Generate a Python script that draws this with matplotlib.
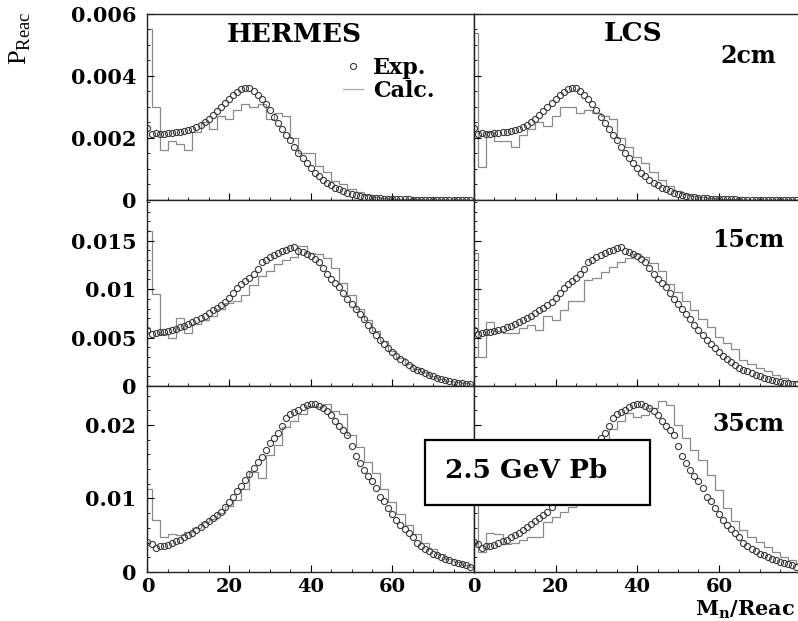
import matplotlib
matplotlib.use('Agg')
import matplotlib.pyplot as plt
from matplotlib.ticker import MultipleLocator, FuncFormatter
from matplotlib.patches import Rectangle
from matplotlib.lines import Line2D

plt.rcParams['font.family'] = 'DejaVu Serif'
plt.rcParams['font.weight'] = 'bold'
plt.rcParams['mathtext.fontset'] = 'custom'
plt.rcParams['mathtext.rm'] = 'Liberation Serif:normal'
plt.rcParams['mathtext.bf'] = 'DejaVu Serif:bold'

# M_n/Reac values of the experimental points
mn = list(range(80))
# histogram bin edges of the calculations
edges = [0] + list(range(1, 80, 2)) + [80]

exp_2cm = [0.00232, 0.00212, 0.00215, 0.00212, 0.00213, 0.00215, 0.00216, 0.00218, 0.00220, 0.00222,
           0.00226, 0.00230, 0.00236, 0.00243, 0.00252, 0.00262, 0.00274, 0.00287, 0.00300, 0.00313,
           0.00326, 0.00338, 0.00349, 0.00358, 0.00362, 0.00360, 0.00352, 0.00340, 0.00326, 0.00310,
           0.00290, 0.00268, 0.00248, 0.00228, 0.00210, 0.00192, 0.00172, 0.00153, 0.00136, 0.00118,
           0.00102, 0.00088, 0.00076, 0.00065, 0.00056, 0.00048, 0.00040, 0.00034, 0.00029, 0.00024,
           0.00020, 0.00016, 0.00013, 0.00011, 0.00009, 0.00007, 0.00006, 0.00005, 0.00004, 0.00003,
           0.000025, 0.00002, 0.00002, 0.000015, 0.000015, 0.00001, 0.00001, 0.00001, 0.00001, 0.000008,
           0.000008, 0.000006, 0.000006, 0.000005, 0.000005, 0.000004, 0.000004, 0.000003, 0.000003, 0.000002]

exp_15cm = [0.0058, 0.0054, 0.0055, 0.0056, 0.0056, 0.0057, 0.0058, 0.0059, 0.0061, 0.0062,
            0.0064, 0.0066, 0.0068, 0.0070, 0.0072, 0.0075, 0.0078, 0.0081, 0.0084, 0.0087,
            0.0091, 0.0096, 0.0101, 0.0105, 0.0108, 0.0111, 0.0116, 0.0121, 0.0128, 0.0130,
            0.0133, 0.0135, 0.0137, 0.0139, 0.0140, 0.0142, 0.0144, 0.0139, 0.0138, 0.0136,
            0.0134, 0.0131, 0.0128, 0.0122, 0.0116, 0.0110, 0.0106, 0.0102, 0.0096, 0.0090,
            0.0085, 0.0079, 0.0074, 0.0069, 0.0063, 0.0058, 0.0053, 0.0048, 0.0043, 0.0039,
            0.0035, 0.0031, 0.0028, 0.0025, 0.0022, 0.0019, 0.0017, 0.0015, 0.0013, 0.0011,
            0.0010, 0.0008, 0.0007, 0.0006, 0.0005, 0.0004, 0.00035, 0.0003, 0.00025, 0.0002]

exp_35cm = [0.0041, 0.0038, 0.0032, 0.0035, 0.0036, 0.0037, 0.0040, 0.0042, 0.0044, 0.0047,
            0.0050, 0.0053, 0.0057, 0.0061, 0.0065, 0.0069, 0.0073, 0.0077, 0.0082, 0.0088,
            0.0095, 0.0102, 0.0110, 0.0117, 0.0125, 0.0133, 0.0141, 0.0149, 0.0157, 0.0166,
            0.0175, 0.0182, 0.0189, 0.0199, 0.0210, 0.0215, 0.0218, 0.0221, 0.0224, 0.0227,
            0.0229, 0.0228, 0.0226, 0.0223, 0.0219, 0.0213, 0.0205, 0.0198, 0.0193, 0.0186,
            0.0172, 0.0158, 0.0148, 0.0139, 0.0131, 0.0124, 0.0114, 0.0102, 0.0096, 0.0087,
            0.0079, 0.0071, 0.0064, 0.0058, 0.0053, 0.0047, 0.0040, 0.0035, 0.0031, 0.0028,
            0.0025, 0.0023, 0.0021, 0.0018, 0.0016, 0.0014, 0.0012, 0.0011, 0.0010, 0.0007]

hermes_2cm = [0.0055, 0.0030, 0.0016, 0.0019, 0.0018, 0.0016, 0.0022, 0.0025, 0.0023, 0.0027,
              0.0026, 0.0029, 0.0031, 0.0030, 0.0031, 0.0026, 0.0028, 0.0027, 0.0020, 0.0015,
              0.0015, 0.0011, 0.0009, 0.0006, 0.0005, 0.00035, 0.00025, 0.00015, 0.0001, 0.00006,
              0.00004, 0.00003, 0.00002, 0.00002, 0.00001, 0.00001, 0.00001, 0.00001, 0.000005, 0.000005,
              0.000005]
lcs_2cm = [0.0054, 0.00105, 0.0022, 0.0019, 0.0019, 0.0017, 0.0021, 0.0023, 0.0025, 0.0024,
           0.0027, 0.0030, 0.0030, 0.0028, 0.0029, 0.0028, 0.0027, 0.0026, 0.0020, 0.0017,
           0.0014, 0.0012, 0.0009, 0.00065, 0.00045, 0.0003, 0.0002, 0.00012, 0.00008, 0.00005,
           0.00003, 0.00002, 0.00002, 0.00001, 0.00001, 0.00001, 0.00001, 0.000005, 0.000005, 0.000005,
           0.000005]
hermes_15cm = [0.0160, 0.0095, 0.0054, 0.0050, 0.0070, 0.0055, 0.0064, 0.0068, 0.0072, 0.0080,
               0.0086, 0.0088, 0.0094, 0.0104, 0.0114, 0.0119, 0.0126, 0.0130, 0.0133, 0.0145,
               0.0137, 0.0136, 0.0132, 0.0122, 0.0106, 0.0094, 0.0080, 0.0068, 0.0057, 0.0046,
               0.0036, 0.0029, 0.0023, 0.0018, 0.0014, 0.0010, 0.0007, 0.0005, 0.0004, 0.0003,
               0.0002]
lcs_15cm = [0.0137, 0.0030, 0.0066, 0.0057, 0.0055, 0.0055, 0.0060, 0.0063, 0.0058, 0.0072,
            0.0068, 0.0078, 0.0088, 0.0088, 0.0109, 0.0112, 0.0118, 0.0123, 0.0128, 0.0132,
            0.0136, 0.0133, 0.0127, 0.0119, 0.0105, 0.0097, 0.0088, 0.0078, 0.0069, 0.0061,
            0.0051, 0.0044, 0.0038, 0.0027, 0.0023, 0.0019, 0.0015, 0.0011, 0.0008, 0.0005,
            0.0004]
hermes_35cm = [0.0113, 0.0071, 0.0048, 0.0052, 0.0050, 0.0055, 0.0060, 0.0068, 0.0072, 0.0080,
               0.0090, 0.0098, 0.0113, 0.0136, 0.0128, 0.0159, 0.0173, 0.0197, 0.0205, 0.0215,
               0.0226, 0.0225, 0.0229, 0.0219, 0.0215, 0.0186, 0.0170, 0.0150, 0.0135, 0.0113,
               0.0095, 0.0079, 0.0064, 0.0052, 0.0040, 0.0031, 0.0024, 0.0018, 0.0013, 0.0010,
               0.0007]
lcs_35cm = [0.0125, 0.0027, 0.0053, 0.0052, 0.0038, 0.0040, 0.0044, 0.0048, 0.0047, 0.0068,
            0.0075, 0.0082, 0.0088, 0.0098, 0.0110, 0.0130, 0.0160, 0.0195, 0.0205, 0.0216,
            0.0211, 0.0214, 0.0223, 0.0232, 0.0227, 0.0200, 0.0182, 0.0166, 0.0152, 0.0132,
            0.0112, 0.0087, 0.0070, 0.0057, 0.0047, 0.0041, 0.0034, 0.0027, 0.0021, 0.0016,
            0.0012]

rows = [
    (exp_2cm, hermes_2cm, lcs_2cm, 0.006, 0.002, 0.0005, '2cm'),
    (exp_15cm, hermes_15cm, lcs_15cm, 0.0192, 0.005, 0.001, '15cm'),
    (exp_35cm, hermes_35cm, lcs_35cm, 0.0253, 0.01, 0.002, '35cm'),
]

fig = plt.figure(figsize=(7.98, 6.21), dpi=100)
lefts = [0.1848, 0.594]
width = 0.4091
bottoms = [0.678, 0.3784, 0.0789]
height = 0.2995

fmt = FuncFormatter(lambda v, p: '%g' % round(v, 6))
axes = []
for r, (exp, hcalc, lcalc, ymax, major, minor, thick) in enumerate(rows):
    for c, calc in enumerate([hcalc, lcalc]):
        ax = fig.add_axes([lefts[c], bottoms[r], width, height])
        ax.stairs(calc, edges, color='#8a8a8a', lw=0.9)
        ax.plot(mn, exp, 'o', ms=4.4, mfc='none', mec='#3a3a3a', mew=0.8)
        ax.set_xlim(0, 80)
        ax.set_ylim(0, ymax)
        ax.xaxis.set_major_locator(MultipleLocator(20))
        ax.xaxis.set_minor_locator(MultipleLocator(5))
        ax.yaxis.set_major_locator(MultipleLocator(major))
        ax.yaxis.set_minor_locator(MultipleLocator(minor))
        ax.yaxis.set_major_formatter(fmt)
        ax.tick_params(which='both', direction='in', top=False, right=False,
                       labelsize=15, colors='black')
        ax.tick_params(which='major', length=5, width=0.8)
        ax.tick_params(which='minor', length=2.5, width=0.6)
        ax.tick_params(axis='y', pad=8)
        ax.tick_params(axis='x', pad=4, labelsize=14)
        if c == 1:
            ax.tick_params(axis='y', labelleft=False)
        if r < 2:
            ax.tick_params(axis='x', labelbottom=False)
        else:
            ax.set_xticks([0, 20, 40, 60])
        for s in ax.spines.values():
            s.set_linewidth(1.0)
            s.set_color('#222222')
        for lab in ax.get_xticklabels() + ax.get_yticklabels():
            lab.set_fontweight('bold')
        if c == 1:
            ax.text(0.84, [0.773, 0.785, 0.796][r], thick, transform=ax.transAxes,
                    ha='center', va='center', fontsize=17, fontweight='bold')
        axes.append(ax)

axes[0].text(0.449, 0.892, 'HERMES', transform=axes[0].transAxes, ha='center',
             va='center', fontsize=19, fontweight='bold')
axes[1].text(0.487, 0.895, 'LCS', transform=axes[1].transAxes, ha='center',
             va='center', fontsize=19, fontweight='bold')

handles = [Line2D([], [], ls='none', marker='o', ms=4.4, mfc='none', mec='#3a3a3a', mew=0.8),
           Line2D([], [], color='#aaaaaa', lw=0.9)]
axes[0].legend(handles, ['Exp.', 'Calc.'], loc='upper left', bbox_to_anchor=(0.565, 0.83),
               frameon=False, borderpad=0, handlelength=0.9, handletextpad=0.45,
               labelspacing=0.05, prop={'family': 'DejaVu Serif', 'weight': 'bold', 'size': 16})

fig.text(0.026, 0.981, r'$\mathrm{P}_{\mathrm{Reac}}$', rotation=90, ha='center', va='top',
         fontsize=19, fontweight='normal')
fig.text(0.996, 0.0, r'$\mathbf{M}_{\mathbf{n}}\mathbf{/Reac}$', ha='right', va='bottom',
         fontsize=15)

fig.add_artist(Rectangle((0.5326, 0.1868), 0.282, 0.1047, transform=fig.transFigure,
                         facecolor='white', edgecolor='black', lw=1.6, zorder=10))
fig.text(0.5576, 0.243, '2.5 GeV Pb', ha='left', va='center', fontsize=19,
         fontweight='bold', zorder=11)

fig.savefig('out.png', dpi=100)
